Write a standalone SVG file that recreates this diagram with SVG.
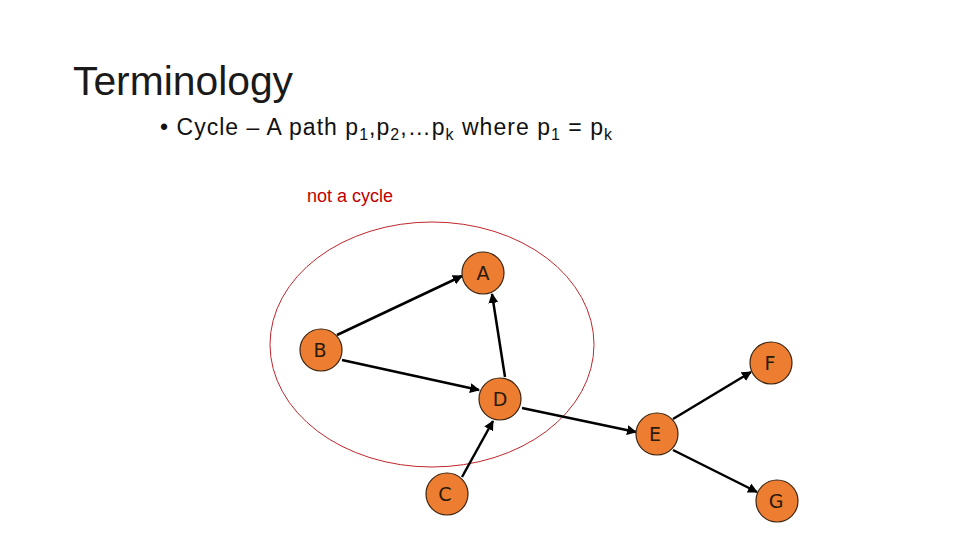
<svg xmlns="http://www.w3.org/2000/svg" width="960" height="540" viewBox="0 0 960 540">
<defs>
<marker id="arr" viewBox="0 0 10 10" refX="9" refY="5" markerWidth="4" markerHeight="4" orient="auto" markerUnits="strokeWidth">
<path d="M0,0 L10,5 L0,10 z" fill="#000"/>
</marker>
</defs>
<style>
.node circle{fill:#ED7D31;stroke:#3b2410;stroke-width:1.2}
.node text{font-family:"DejaVu Sans",sans-serif;font-size:19px;fill:#2a1a0a;text-anchor:middle}
.edge{stroke:#000;stroke-width:2.5;fill:none;marker-end:url(#arr)}
.t{font-family:"Liberation Sans",Arial,sans-serif}
</style>
<rect width="960" height="540" fill="#fff"/>
<text class="t" x="73" y="95" font-size="40" fill="#1a1a1a" textLength="220" lengthAdjust="spacingAndGlyphs">Terminology</text>
<text class="t" x="160" y="135" font-size="23" fill="#111" textLength="452" lengthAdjust="spacing">• Cycle – A path p<tspan font-size="16" dy="5">1</tspan><tspan dy="-5">,p</tspan><tspan font-size="16" dy="5">2</tspan><tspan dy="-5">,…p</tspan><tspan font-size="16" dy="5">k</tspan><tspan dy="-5"> where p</tspan><tspan font-size="16" dy="5">1</tspan><tspan dy="-5"> = p</tspan><tspan font-size="16" dy="5">k</tspan></text>
<text class="t" x="307" y="202" font-size="18" fill="#C00000">not a cycle</text>
<ellipse id="circle-annotation" cx="432" cy="344.5" rx="162" ry="122.5" fill="none" stroke="#C0272D" stroke-width="1"/>
<g id="connectors">
<line class="edge" x1="337" y1="335" x2="462" y2="276"/>
<line class="edge" x1="505" y1="377" x2="492" y2="294"/>
<line class="edge" x1="342" y1="360" x2="479" y2="390"/>
<line class="edge" x1="462" y1="477" x2="493" y2="421"/>
<line class="edge" x1="522" y1="408" x2="636" y2="432"/>
<line class="edge" x1="673" y1="419" x2="751" y2="372"/>
<line class="edge" x1="673" y1="450" x2="757" y2="492"/>
</g>
<g id="node-A" class="node"><circle cx="483" cy="273" r="21"/><text x="483" y="280">A</text></g>
<g id="node-B" class="node"><circle cx="321" cy="350" r="21"/><text x="320" y="357">B</text></g>
<g id="node-D" class="node"><circle cx="500" cy="399" r="21"/><text x="500" y="406">D</text></g>
<g id="node-E" class="node"><circle cx="657" cy="434" r="21"/><text x="655" y="441">E</text></g>
<g id="node-C" class="node"><circle cx="447" cy="494" r="21"/><text x="445" y="501">C</text></g>
<g id="node-F" class="node"><circle cx="771" cy="363" r="21"/><text x="770" y="370">F</text></g>
<g id="node-G" class="node"><circle cx="777" cy="501" r="21"/><text x="776" y="508">G</text></g>
</svg>
